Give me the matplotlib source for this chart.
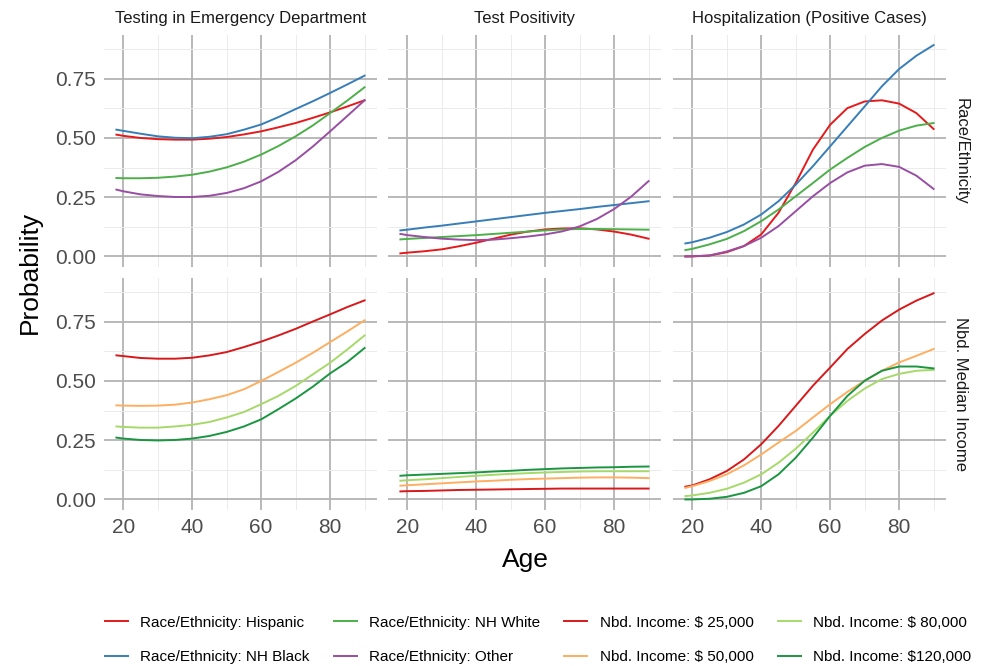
import matplotlib
matplotlib.use("Agg")
import matplotlib.pyplot as plt
from matplotlib.lines import Line2D

plt.rcParams['font.family'] = ['Liberation Sans', 'DejaVu Sans']

ages = [18, 20, 25, 30, 35, 40, 45, 50, 55, 60, 65, 70, 75, 80, 85, 90]

# --- Race/Ethnicity row ---
ed_hispanic = [.514, .509, .500, .495, .493, .493, .497, .504, .515, .528, .545, .563, .585, .608, .633, .659]
ed_black = [.535, .530, .518, .507, .501, .499, .505, .516, .535, .557, .588, .622, .655, .690, .726, .763]
ed_white = [.331, .330, .330, .332, .337, .345, .358, .376, .400, .430, .466, .507, .553, .605, .658, .714]
ed_other = [.282, .275, .262, .255, .251, .251, .256, .268, .288, .317, .357, .406, .464, .528, .593, .659]

pos_hispanic = [.013, .016, .022, .030, .043, .058, .075, .092, .105, .114, .118, .119, .114, .105, .092, .075]
pos_black = [.110, .113, .122, .130, .139, .148, .157, .166, .175, .184, .192, .200, .209, .217, .225, .233]
pos_white = [.072, .074, .078, .082, .086, .090, .095, .100, .105, .110, .114, .116, .116, .115, .114, .113]
pos_other = [.095, .090, .082, .075, .071, .069, .071, .077, .084, .093, .106, .127, .158, .200, .253, .318]

hosp_hispanic = [.000, .000, .004, .018, .044, .093, .184, .310, .451, .556, .626, .654, .659, .645, .605, .538]
hosp_black = [.055, .060, .079, .103, .135, .177, .233, .303, .381, .465, .549, .633, .718, .791, .847, .892]
hosp_white = [.027, .032, .051, .074, .107, .149, .198, .254, .310, .367, .416, .462, .500, .531, .552, .563]
hosp_other = [.000, .001, .004, .021, .044, .079, .128, .191, .254, .310, .355, .383, .390, .378, .341, .285]

# --- Nbd. Median Income row ---
ed_25k = [.608, .605, .597, .594, .594, .598, .608, .622, .643, .666, .692, .720, .751, .781, .812, .840]
ed_50k = [.397, .396, .395, .396, .400, .409, .423, .440, .465, .500, .538, .577, .619, .664, .709, .756]
ed_80k = [.308, .306, .303, .303, .308, .315, .327, .346, .369, .402, .437, .479, .528, .577, .633, .692]
ed_120k = [.261, .257, .251, .249, .251, .257, .268, .285, .308, .338, .381, .426, .476, .532, .580, .639]

pos_25k = [.034, .035, .036, .038, .040, .041, .042, .043, .044, .045, .046, .046, .046, .046, .046, .046]
pos_50k = [.058, .060, .064, .068, .072, .076, .079, .083, .086, .088, .090, .092, .093, .093, .092, .090]
pos_80k = [.079, .081, .085, .090, .095, .100, .104, .108, .111, .114, .116, .118, .119, .119, .119, .119]
pos_120k = [.100, .102, .105, .108, .111, .114, .118, .121, .125, .128, .131, .133, .135, .136, .138, .139]

hosp_25k = [.054, .059, .085, .120, .169, .233, .310, .395, .480, .557, .635, .698, .755, .801, .839, .870]
hosp_50k = [.049, .056, .078, .106, .144, .190, .240, .289, .346, .402, .454, .501, .543, .578, .606, .635]
hosp_80k = [.014, .017, .028, .045, .071, .106, .155, .214, .282, .353, .416, .468, .508, .530, .543, .547]
hosp_120k = [.000, .000, .003, .011, .028, .056, .106, .176, .261, .353, .437, .501, .543, .561, .561, .553]

col_titles = ["Testing in Emergency Department", "Test Positivity", "Hospitalization (Positive Cases)"]
row_titles = ["Race/Ethnicity", "Nbd. Median Income"]

race_labels = ["Race/Ethnicity: Hispanic", "Race/Ethnicity: NH Black",
               "Race/Ethnicity: NH White", "Race/Ethnicity: Other"]
income_labels = ["Nbd. Income: $ 25,000", "Nbd. Income: $ 50,000",
                 "Nbd. Income: $ 80,000", "Nbd. Income: $120,000"]
race_colors = ["#E41A1C", "#377EB8", "#4DAF4A", "#984EA3"]
income_colors = ["#D7191C", "#FDAE61", "#A6D96A", "#1A9641"]

panels = [
    [[ed_hispanic, ed_black, ed_white, ed_other],
     [pos_hispanic, pos_black, pos_white, pos_other],
     [hosp_hispanic, hosp_black, hosp_white, hosp_other]],
    [[ed_25k, ed_50k, ed_80k, ed_120k],
     [pos_25k, pos_50k, pos_80k, pos_120k],
     [hosp_25k, hosp_50k, hosp_80k, hosp_120k]],
]

W, H = 982, 666
fig = plt.figure(figsize=(W / 100, H / 100), dpi=100)

lefts = [104, 388, 673]
tops = [35, 278]
pw, ph = 273, 232

for r in range(2):
    colors = race_colors if r == 0 else income_colors
    for c in range(3):
        ax = fig.add_axes([lefts[c] / W, 1 - (tops[r] + ph) / H, pw / W, ph / H])
        for series, color in zip(panels[r][c], colors):
            ax.plot(ages, series, color=color, lw=1.4, solid_joinstyle='round')
        ax.set_xlim(14.4, 93.6)
        ax.set_ylim(-0.0445, 0.9345)
        ax.set_xticks([20, 40, 60, 80])
        ax.set_xticks([30, 50, 70, 90], minor=True)
        ax.set_yticks([0, .25, .5, .75])
        ax.set_yticks([.125, .375, .625, .875], minor=True)
        ax.grid(which='major', color='#b3b3b3', lw=1.3)
        ax.grid(which='minor', color='#ebebeb', lw=0.7)
        ax.set_axisbelow(True)
        for s in ax.spines.values():
            s.set_visible(False)
        ax.tick_params(which='both', length=0, labelsize=15, labelcolor='#4d4d4d', pad=6)
        if c == 0:
            ax.set_yticklabels(["0.00", "0.25", "0.50", "0.75"])
        else:
            ax.set_yticklabels([])
        if r == 0:
            ax.set_xticklabels([])
            ax.text(0.5, 1 + 17 / ph, col_titles[c], transform=ax.transAxes,
                    ha='center', va='center', fontsize=12, color='#1a1a1a')
        if c == 2:
            ax.text(1 + 15 / pw, 0.5, row_titles[r], transform=ax.transAxes,
                    ha='center', va='center', rotation=-90, fontsize=12, color='#1a1a1a')

fig.text(30 / W, 1 - 272 / H, "Probability", rotation=90, ha='center', va='center', fontsize=19)
fig.text(525 / W, 1 - 560 / H, "Age", ha='center', va='center', fontsize=19)

handles = []
labels = []
for lab, col in zip(race_labels + income_labels, race_colors + income_colors):
    handles.append(Line2D([], [], color=col, lw=1.4))
    labels.append(lab)

fig.legend(handles, labels, ncol=4, loc='center', bbox_to_anchor=(538 / W, 1 - 640 / H),
           frameon=False, fontsize=11, handlelength=1.5, handletextpad=0.8,
           labelspacing=1.35, columnspacing=1.6)

fig.savefig("out.png", dpi=100)
